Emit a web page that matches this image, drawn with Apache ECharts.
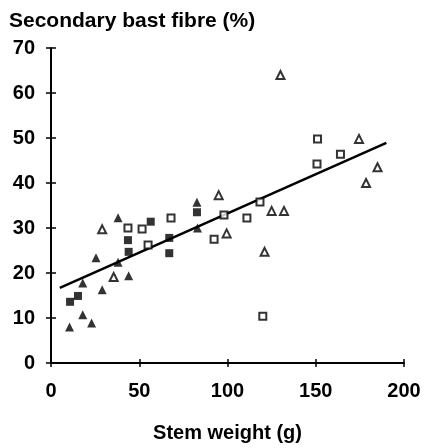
<!DOCTYPE html>
<html>
<head>
<meta charset="utf-8">
<script src="https://cdn.jsdelivr.net/npm/echarts@6/dist/echarts.min.js"></script>
<style>html,body{margin:0;padding:0;background:#fff;}#c{width:424px;height:448px;}</style>
</head>
<body>
<div id="c"></div>
<script>
const titleText = "Secondary bast fibre (%)";
const xName = "Stem weight (g)";
const xTicks = [0, 50, 100, 150, 200];
const yTicks = [0, 10, 20, 30, 40, 50, 60, 70];

const openTriangles = [[130,64],[29,29.7],[35.5,19.1],[95,37.3],[99.5,28.8],[125,33.8],[132,33.8],[121,24.7],[174.5,49.8],[185,43.5],[178.5,40]];
const filledTriangles = [[38,32.3],[25.5,23.4],[44,19.4],[38,22.4],[18,17.8],[29,16.3],[18,10.7],[10.5,8.0],[23,8.9],[82.7,35.7],[83,30]];
const openSquares = [[43.6,30],[51.6,29.8],[68,32.2],[55,26.2],[98,32.9],[118.4,35.8],[111,32.2],[92.4,27.5],[120,10.4],[151,49.8],[164,46.4],[150.7,44.2]];
const filledSquares = [[56.5,31.4],[43.6,27.3],[44,24.7],[67,27.8],[67,24.4],[82.7,33.5],[15.3,14.9],[10.8,13.6]];
const fitLine = [[5,16.7],[190,48.9]];

const FONT = "Liberation Sans";
const chart = echarts.init(document.getElementById('c'), null, {renderer: 'canvas'});
const baseX = {type:'value', min:0, max:200, interval:50, position:'bottom',
  splitLine:{show:false}, axisLine:{lineStyle:{color:'#000', width:2}}};
const baseY = {type:'value', min:0, max:70, interval:10, position:'left',
  splitLine:{show:false}, axisLine:{lineStyle:{color:'#000', width:2}}};
chart.setOption({
  animation:false,
  title:{text:titleText, left:4, top:6, textStyle:{fontFamily:FONT, fontWeight:'bold', fontSize:21, color:'#000'}},
  grid:{left:51, right:20, top:48, bottom:85, containLabel:false, outerBoundsMode:'none'},
  xAxis:[
    Object.assign({}, baseX, {
      name:xName, nameLocation:'middle', nameGap:60,
      nameTextStyle:{fontFamily:FONT, fontWeight:'bold', fontSize:20, color:'#000'},
      axisTick:{show:true, length:4, inside:false, lineStyle:{color:'#000', width:1.5}},
      axisLabel:{fontFamily:FONT, fontWeight:'bold', fontSize:20, color:'#000', margin:18,
        formatter:(v)=> xTicks.includes(v) ? String(v) : ''}
    }),
    Object.assign({}, baseX, {
      axisLine:{show:false}, axisLabel:{show:false},
      axisTick:{show:true, length:4, inside:true, lineStyle:{color:'#000', width:1.5}}
    })
  ],
  yAxis:[
    Object.assign({}, baseY, {
      axisTick:{show:true, length:5, inside:false, lineStyle:{color:'#000', width:1.5}},
      axisLabel:{fontFamily:FONT, fontWeight:'bold', fontSize:20, color:'#000', margin:16,
        formatter:(v)=> yTicks.includes(v) ? String(v) : ''}
    }),
    Object.assign({}, baseY, {
      axisLine:{show:false}, axisLabel:{show:false},
      axisTick:{show:true, length:5, inside:true, lineStyle:{color:'#000', width:1.5}}
    })
  ],
  series:[
    {type:'line', data:fitLine, symbol:'none', lineStyle:{color:'#000', width:2.5}, z:1},
    {type:'scatter', data:openTriangles, symbol:'triangle', symbolSize:8,
      itemStyle:{color:'#fff', borderColor:'#000', borderWidth:2}, z:3},
    {type:'scatter', data:filledTriangles, symbol:'triangle', symbolSize:9,
      itemStyle:{color:'#000'}, z:3},
    {type:'scatter', data:openSquares, symbol:'rect', symbolSize:7,
      itemStyle:{color:'#fff', borderColor:'#000', borderWidth:2}, z:3},
    {type:'scatter', data:filledSquares, symbol:'rect', symbolSize:8,
      itemStyle:{color:'#000'}, z:3}
  ]
});
</script>
</body>
</html>
